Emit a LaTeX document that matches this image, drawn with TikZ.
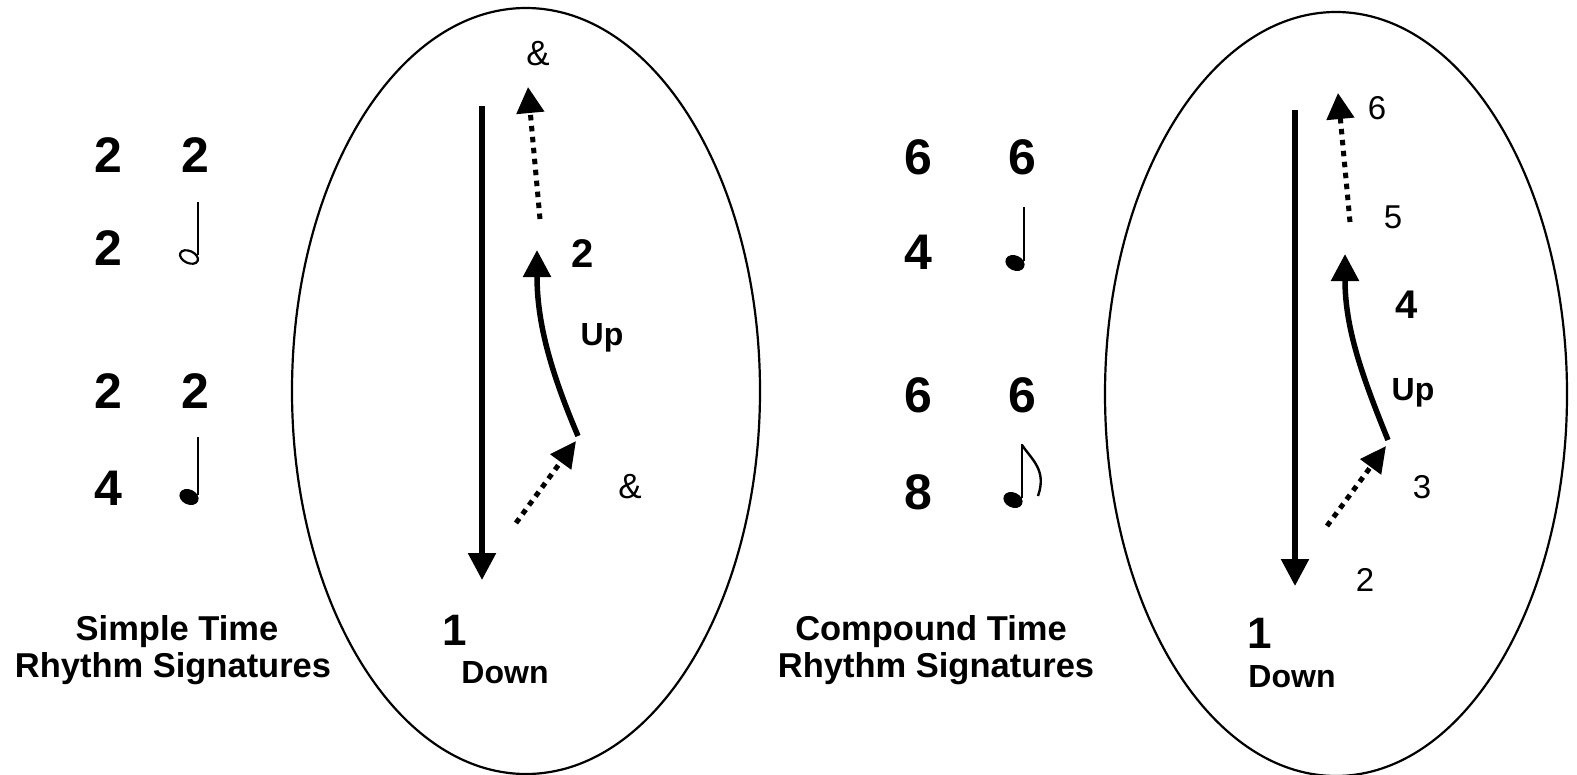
\documentclass[tikz,border=0pt]{standalone}
\usepackage{fontspec}
\setmainfont{Liberation Sans}
\usetikzlibrary{arrows.meta}
\begin{document}
\begin{tikzpicture}[x=1pt,y=-1pt,
  big/.style={font=\fontsize{50}{50}\selectfont\bfseries, inner sep=0pt},
  one/.style={font=\fontsize{44}{44}\selectfont\bfseries, inner sep=0pt},
  lbl/.style={font=\fontsize{32}{34}\selectfont\bfseries, inner sep=0pt},
  title/.style={font=\fontsize{34.5}{36}\selectfont\bfseries, inner sep=0pt},
  reg/.style={font=\fontsize{33}{33}\selectfont, inner sep=0pt},
  amp/.style={font=\fontsize{35}{35}\selectfont, inner sep=0pt},
  solidarrow/.style={line width=5.5pt, -{Triangle[width=27pt,length=27pt]}},
  dotarrow/.style={line width=5pt, dash pattern=on 5.5pt off 5.5pt, -{Triangle[width=27pt,length=26pt]}},
  oval/.style={line width=2.2pt},
  stem/.style={line width=2pt}]
\useasboundingbox (0,0) rectangle (1577,774);
\fill[white] (0,0) rectangle (1577,774);

% ---------- left: simple time ----------
\node[big] (s1a) at (108,155) {2};
\node[big] (s1b) at (195,155) {2};
\node[big] (s2a) at (108,248) {2};
\node[big] (s3a) at (108,391) {2};
\node[big] (s3b) at (195,391) {2};
\node[big] (s4a) at (108,488) {4};
% half note
\draw[line width=2.2pt, rotate around={-25:(189,257)}] (189,257) ellipse [x radius=9.5pt, y radius=6pt];
\draw[stem] (198,255) -- (198,202);
% quarter note
\fill[rotate around={-25:(189,497)}] (189,497) ellipse [x radius=10pt, y radius=7.5pt];
\draw[stem] (198,495) -- (198,437);

\node[title] (st1) at (177,632) {Simple Time};
\node[title] (st2) at (173,669) {Rhythm Signatures};

% left oval
\draw[oval] (526,391) ellipse [x radius=234pt, y radius=383pt];
\coordinate (ld1) at (482,106);
\coordinate (ld2) at (482,580);
\draw[solidarrow] (ld1) -- (ld2);
\coordinate (lt1) at (540,219);
\coordinate (lt2) at (528,87);
\draw[dotarrow] (lt1) -- (lt2);
\coordinate (lc1) at (578,436);
\coordinate (lc2) at (537,250);
\draw[solidarrow] (lc1) .. controls (550,370) and (537,322) .. (lc2);
\coordinate (lb1) at (516,523);
\coordinate (lb2) at (576,441);
\draw[dotarrow,-{Triangle[width=25pt,length=26pt]}] (lb1) -- (lb2);
\node[amp] (la1) at (538,54) {\&};
\node[lbl,font=\fontsize{40}{40}\selectfont\bfseries] (l2) at (583,254) {2};
\node[lbl] (lup) at (602,338) {Up};
\node[amp] (la2) at (630,487) {\&};
\node[one] (l1) at (455,630) {1};
\node[lbl] (ldn) at (505,673) {Down};

% ---------- right: compound time ----------
\node[big] (c1a) at (918,157) {6};
\node[big] (c1b) at (1022,157) {6};
\node[big] (c2a) at (918,252) {4};
\node[big] (c3a) at (918,395) {6};
\node[big] (c3b) at (1022,395) {6};
\node[big] (c4a) at (918,492) {8};
% quarter note
\fill[rotate around={-25:(1015,263)}] (1015,263) ellipse [x radius=10pt, y radius=7.5pt];
\draw[stem] (1024,261) -- (1024,207);
% eighth note
\fill[rotate around={-25:(1013,500)}] (1013,500) ellipse [x radius=10pt, y radius=7.5pt];
\draw[stem] (1022,498) -- (1022,444);
\draw[line width=2.4pt] (1022,445) .. controls (1032,460) and (1047,470) .. (1038,496);

\node[title] (ct1) at (931,632) {Compound Time};
\node[title] (ct2) at (936,669) {Rhythm Signatures};

% right oval
\draw[oval] (1336,394) ellipse [x radius=231pt, y radius=382pt];
\coordinate (rd1) at (1295,110);
\coordinate (rd2) at (1295,586);
\draw[solidarrow] (rd1) -- (rd2);
\coordinate (rt1) at (1350,222);
\coordinate (rt2) at (1338,93);
\draw[dotarrow] (rt1) -- (rt2);
\coordinate (rc1) at (1388,440);
\coordinate (rc2) at (1345,254);
\draw[solidarrow] (rc1) .. controls (1362,376) and (1345,328) .. (rc2);
\coordinate (rb1) at (1327,526);
\coordinate (rb2) at (1386,446);
\draw[dotarrow,-{Triangle[width=25pt,length=26pt]}] (rb1) -- (rb2);
\node[reg] (r6) at (1377,108) {6};
\node[reg] (r5) at (1393,217) {5};
\node[lbl,font=\fontsize{40}{40}\selectfont\bfseries] (r4) at (1407,305) {4};
\node[lbl] (rup) at (1413,393) {Up};
\node[reg] (r3) at (1422,487) {3};
\node[reg] (r2) at (1365,580) {2};
\node[one] (r1) at (1260,633) {1};
\node[lbl] (rdn) at (1292,677) {Down};
\end{tikzpicture}
\end{document}
